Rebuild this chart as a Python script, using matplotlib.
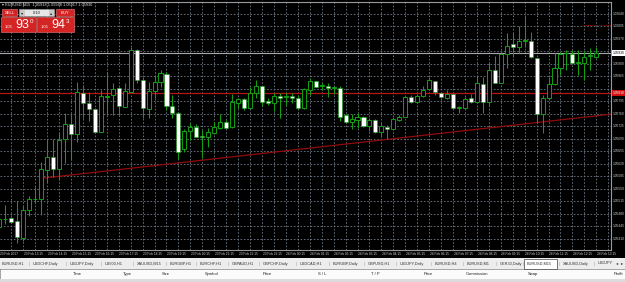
import numpy as np
import matplotlib
matplotlib.use('Agg')
import matplotlib.pyplot as plt
import matplotlib.transforms as mtrans
from matplotlib.patches import Rectangle

plt.rcParams['font.family'] = ['Liberation Sans', 'DejaVu Sans']

# EURUSD M15 candles, 23 Feb 12:15 .. 24 Feb 13:15
opens = [1.05443, 1.05464, 1.05468, 1.05460, 1.05412, 1.05490, 1.05520, 1.05521, 1.05602, 1.05639,
         1.05605, 1.05689, 1.05730, 1.05703, 1.05818, 1.05790, 1.05772, 1.05710, 1.05808, 1.05812,
         1.05831, 1.05780, 1.05822, 1.05938, 1.05854, 1.05773, 1.05823, 1.05850, 1.05871, 1.05782,
         1.05761, 1.05661, 1.05712, 1.05722, 1.05696, 1.05694, 1.05705, 1.05719, 1.05738, 1.05722,
         1.05791, 1.05800, 1.05777, 1.05817, 1.05837, 1.05796, 1.05789, 1.05810, 1.05808, 1.05810,
         1.05805, 1.05775, 1.05826, 1.05852, 1.05837, 1.05838, 1.05832, 1.05833, 1.05756, 1.05736,
         1.05742, 1.05752, 1.05726, 1.05742, 1.05709, 1.05724, 1.05716, 1.05742, 1.05752, 1.05808,
         1.05792, 1.05810, 1.05828, 1.05852, 1.05819, 1.05803, 1.05814, 1.05776, 1.05775, 1.05803,
         1.05792, 1.05843, 1.05794, 1.05882, 1.05847, 1.05927, 1.05954, 1.05948, 1.05964, 1.05964,
         1.05915, 1.05759, 1.05803, 1.05842, 1.05889, 1.05929, 1.05927, 1.05902, 1.05903, 1.05921,
         1.05918]
highs = [1.05474, 1.05504, 1.05471, 1.05516, 1.05504, 1.05530, 1.05556, 1.05625, 1.05689, 1.05689,
         1.05706, 1.05762, 1.05762, 1.05849, 1.05840, 1.05821, 1.05776, 1.05826, 1.05877, 1.05846,
         1.05835, 1.05847, 1.05948, 1.05941, 1.05864, 1.05850, 1.05868, 1.05882, 1.05876, 1.05812,
         1.05765, 1.05717, 1.05733, 1.05731, 1.05714, 1.05719, 1.05738, 1.05759, 1.05742, 1.05814,
         1.05803, 1.05803, 1.05836, 1.05854, 1.05838, 1.05803, 1.05817, 1.05817, 1.05819, 1.05819,
         1.05812, 1.05831, 1.05859, 1.05853, 1.05845, 1.05847, 1.05836, 1.05838, 1.05759, 1.05759,
         1.05761, 1.05754, 1.05747, 1.05744, 1.05738, 1.05728, 1.05750, 1.05756, 1.05807, 1.05812,
         1.05814, 1.05838, 1.05862, 1.05853, 1.05822, 1.05826, 1.05815, 1.05782, 1.05808, 1.05814,
         1.05866, 1.05864, 1.05901, 1.05922, 1.05930, 1.05985, 1.05985, 1.06006, 1.06034, 1.05988,
         1.05916, 1.05812, 1.05864, 1.05931, 1.05934, 1.05938, 1.05938, 1.05938, 1.05936, 1.05945,
         1.05948]
lows = [1.05434, 1.05451, 1.05454, 1.05398, 1.05404, 1.05474, 1.05510, 1.05476, 1.05569, 1.05583,
        1.05574, 1.05622, 1.05630, 1.05681, 1.05748, 1.05740, 1.05706, 1.05709, 1.05756, 1.05756,
        1.05756, 1.05779, 1.05821, 1.05846, 1.05748, 1.05748, 1.05804, 1.05836, 1.05770, 1.05748,
        1.05633, 1.05653, 1.05686, 1.05694, 1.05636, 1.05666, 1.05703, 1.05716, 1.05719, 1.05720,
        1.05775, 1.05770, 1.05775, 1.05803, 1.05782, 1.05783, 1.05768, 1.05749, 1.05783, 1.05789,
        1.05772, 1.05772, 1.05812, 1.05835, 1.05826, 1.05808, 1.05814, 1.05740, 1.05733, 1.05716,
        1.05719, 1.05724, 1.05712, 1.05707, 1.05696, 1.05688, 1.05714, 1.05740, 1.05751, 1.05789,
        1.05791, 1.05808, 1.05826, 1.05812, 1.05803, 1.05800, 1.05772, 1.05761, 1.05772, 1.05789,
        1.05791, 1.05763, 1.05784, 1.05845, 1.05845, 1.05887, 1.05920, 1.05929, 1.05948, 1.05916,
        1.05733, 1.05705, 1.05800, 1.05840, 1.05868, 1.05882, 1.05900, 1.05868, 1.05854, 1.05882,
        1.05917]
closes = [1.05465, 1.05466, 1.05457, 1.05415, 1.05490, 1.05521, 1.05522, 1.05605, 1.05639, 1.05604,
          1.05686, 1.05730, 1.05702, 1.05821, 1.05790, 1.05773, 1.05710, 1.05810, 1.05810, 1.05828,
          1.05782, 1.05824, 1.05938, 1.05854, 1.05775, 1.05824, 1.05850, 1.05873, 1.05782, 1.05763,
          1.05654, 1.05712, 1.05722, 1.05696, 1.05694, 1.05708, 1.05722, 1.05736, 1.05721, 1.05792,
          1.05800, 1.05775, 1.05817, 1.05837, 1.05794, 1.05790, 1.05810, 1.05805, 1.05809, 1.05805,
          1.05775, 1.05828, 1.05852, 1.05836, 1.05838, 1.05833, 1.05834, 1.05752, 1.05736, 1.05745,
          1.05752, 1.05726, 1.05742, 1.05709, 1.05726, 1.05716, 1.05744, 1.05752, 1.05806, 1.05794,
          1.05810, 1.05826, 1.05854, 1.05820, 1.05806, 1.05814, 1.05775, 1.05777, 1.05800, 1.05794,
          1.05845, 1.05794, 1.05882, 1.05847, 1.05927, 1.05950, 1.05948, 1.05964, 1.05965, 1.05918,
          1.05759, 1.05803, 1.05842, 1.05889, 1.05926, 1.05930, 1.05901, 1.05903, 1.05920, 1.05922,
          1.05930]

price_ticks = [1.06040, 1.06005, 1.05970, 1.05935, 1.05900, 1.05865, 1.05830, 1.05795, 1.05760, 1.05725,
               1.05690, 1.05655, 1.05620, 1.05585, 1.05550, 1.05515, 1.05480, 1.05445, 1.05410]
time_labels = ["23 Feb 2017", "23 Feb 13:15", "23 Feb 14:15", "23 Feb 15:15", "23 Feb 16:15",
               "23 Feb 17:15", "23 Feb 18:15", "23 Feb 19:15", "23 Feb 20:15", "23 Feb 21:15",
               "23 Feb 22:15", "23 Feb 23:15", "24 Feb 00:15", "24 Feb 01:15", "24 Feb 02:15",
               "24 Feb 03:15", "24 Feb 04:15", "24 Feb 05:15", "24 Feb 06:15", "24 Feb 07:15",
               "24 Feb 08:15", "24 Feb 09:15", "24 Feb 10:15", "24 Feb 11:15", "24 Feb 12:15",
               "24 Feb 13:15"]
bars_per_label = 4

bid, ask = 1.05930, 1.05943
hline_price = 1.05818
order_line = 1.06008
trend_x = [7, 100]
trend_y = [1.05579, 1.05754]

tabs = ["EURUSD,H1", "USDCHF,Daily", "USDJPY,Daily", "US500,H1", "XAUUSD,M15", "EURGBP,H1",
        "EURCHF,H1", "GBPAUD,H1", "GBPCHF,Daily", "USDCAD,H1", "EURGBP,Daily", "GBPUSD,H1",
        "USDJPY,Daily", "EURUSD,H4", "EURUSD,M1", "GER30,Daily", "EURUSD,M15", "XAUUSD,Daily", "USDJPY"]
tab_x = [2, 33, 70, 105, 137, 170, 200, 232, 263, 300, 333, 368, 400, 435, 467, 500, 527, 563, 598]
active_tab = "EURUSD,M15"
columns = ["Time", "Type", "Size", "Symbol", "Price", "S / L", "T / P", "Price", "Commission", "Swap", "Profit"]
column_x = [82, 132, 170, 218, 272, 327, 380, 433, 488, 538, 623]

o = np.array(opens); h = np.array(highs); l = np.array(lows); c = np.array(closes)
x = np.arange(len(o))
up = c >= o

green = '#12a012'
gridc = '#6f7c88'

fig = plt.figure(figsize=(6.25, 2.82), dpi=100, facecolor='black')

# background / terminal panel, pixel coordinates
bg = fig.add_axes([0, 0, 1, 1], zorder=0)
bg.set_xlim(0, 625); bg.set_ylim(282, 0); bg.axis('off')
bg.add_patch(Rectangle((0, 258), 625, 11, facecolor='#ededed', edgecolor='none'))
bg.add_patch(Rectangle((0, 269), 625, 10, facecolor='#fbfbfb', edgecolor='#b8b8b8', lw=0.5))
bg.add_patch(Rectangle((0, 279), 625, 3, facecolor='#dcdcdc', edgecolor='none'))
for name, tx in zip(tabs, tab_x):
    if name == active_tab:
        bg.add_patch(Rectangle((tx - 3, 258.5), 33, 10, facecolor='white', edgecolor='#404040', lw=0.5))
    bg.text(tx, 263.5, name, fontsize=2.8, color='#303030', va='center', ha='left')
    if tx > 2:
        bg.text(tx - 4, 263.5, '|', fontsize=2.8, color='#909090', va='center', ha='center')
bg.text(617, 263.5, '\u25c2', fontsize=3.2, color='#303030', va='center', ha='center')
bg.text(622, 263.5, '\u25b8', fontsize=3.2, color='#303030', va='center', ha='center')
for name, cx in zip(columns, column_x):
    bg.text(cx, 274, name, fontsize=3.0, color='#202020', va='center', ha='right')

# chart
ax = fig.add_axes([0, 32 / 282, 611 / 625, 248 / 282], zorder=1)
ax.set_facecolor('black')
ax.set_xlim(0.112, 102.46)
ax.set_ylim(1.053784, 1.060728)
ax.set_xticks([]); ax.set_yticks([])
ax.spines['left'].set_visible(False)
for s in ['top', 'right', 'bottom']:
    ax.spines[s].set_color('#9a9a9a')
    ax.spines[s].set_linewidth(0.8)

for p in price_ticks:
    ax.axhline(p, color=gridc, lw=0.6, ls=(0, (2, 2)), zorder=1)
for k in range(0, len(x) + 2, 2):
    ax.axvline(k, color=gridc, lw=0.6, ls=(0, (2, 2)), zorder=1)

ax.axhline(bid, color='#a8a8a8', lw=0.8, zorder=2)
ax.axhline(hline_price, color='#b81414', lw=0.9, zorder=2)
xmax = ax.get_xlim()[1]
slope = (trend_y[1] - trend_y[0]) / (trend_x[1] - trend_x[0])
ax.plot([trend_x[0], xmax], [trend_y[0], trend_y[0] + slope * (xmax - trend_x[0])],
        color='#920b0b', lw=0.9, zorder=2)
ax.plot([97.8, xmax], [order_line, order_line], color='#920b0b', lw=0.8, ls=(0, (1, 1)), zorder=2)

ax.vlines(x, l, h, color=green, lw=0.75, zorder=3)
bottom = np.minimum(o, c)
height = np.maximum(np.abs(c - o), 0.000022)
ax.bar(x[up], height[up], bottom=bottom[up], width=0.68, color='black', edgecolor=green, lw=0.7, zorder=4)
ax.bar(x[~up], height[~up], bottom=bottom[~up], width=0.68, color='white', edgecolor=green, lw=0.4, zorder=4)

# price scale (labels hidden behind the bid / line boxes are skipped)
ytr = mtrans.blended_transform_factory(ax.transAxes, ax.transData)
for p in price_ticks:
    if abs(p - bid) < 0.00015 or abs(p - hline_price) < 0.00015:
        continue
    ax.text(1.003, p, f"{p:.5f}", transform=ytr, fontsize=2.3, color='#d0d0d0',
            va='center', ha='left', clip_on=False)
ax.text(1.003, bid, f"{bid:.5f}", transform=ytr, fontsize=2.3, color='black', va='center', ha='left',
        clip_on=False, bbox=dict(boxstyle='square,pad=0.3', fc='white', ec='none'))
ax.text(1.003, hline_price, f"{hline_price:.5f}", transform=ytr, fontsize=2.3, color='white',
        va='center', ha='left', clip_on=False, bbox=dict(boxstyle='square,pad=0.3', fc='#d01010', ec='none'))

# time scale
xtr = mtrans.blended_transform_factory(ax.transData, ax.transAxes)
for i, lab in enumerate(time_labels):
    ax.text(i * bars_per_label + 0.1, -0.01, lab, transform=xtr, fontsize=2.35, color='#d0d0d0',
            va='top', ha='left', clip_on=False)

# overlay: title and one-click trading panel
ov = fig.add_axes([0, 0, 1, 1], zorder=5)
ov.set_xlim(0, 625); ov.set_ylim(282, 0); ov.axis('off'); ov.patch.set_alpha(0)
ov.text(2, 4.5, "\u25be EURUSD,M15  %.5f %.5f %.5f %.5f" % (o[-1], h[-1], l[-1], c[-1]),
        fontsize=2.8, color='#e0e0e0', va='center', ha='left')
red = '#d42424'
ov.add_patch(Rectangle((2, 9), 15, 7, facecolor=red, edgecolor='#f08080', lw=0.4))
ov.text(9.5, 12.6, "SELL", fontsize=3, color='white', va='center', ha='center')
ov.add_patch(Rectangle((19, 9), 35, 7, facecolor='#e6e6e6', edgecolor='#a0a0a0', lw=0.4))
ov.add_patch(Rectangle((19.5, 9.5), 5, 6, facecolor='#c8c8c8', edgecolor='none'))
ov.add_patch(Rectangle((48.5, 9.5), 5, 6, facecolor='#c8c8c8', edgecolor='none'))
ov.text(22, 12.6, "\u25be", fontsize=3, color='#202020', va='center', ha='center')
ov.text(51, 12.6, "\u25b4", fontsize=3, color='#202020', va='center', ha='center')
ov.text(36.5, 12.6, "0.10", fontsize=3, color='#202020', va='center', ha='center')
ov.add_patch(Rectangle((56, 9), 18, 7, facecolor=red, edgecolor='#f08080', lw=0.4))
ov.text(65, 12.6, "BUY", fontsize=3, color='white', va='center', ha='center')

for (x0, w, price) in [(1, 35, bid), (37, 37, ask)]:
    s = f"{price:.5f}"
    ov.add_patch(Rectangle((x0, 17), w, 15, facecolor=red, edgecolor='#f08080', lw=0.4))
    ov.text(x0 + 4, 27, s[:4], fontsize=3, color='white', va='center', ha='left')
    ov.text(x0 + 14, 30.5, s[4:6], fontsize=9, color='white', va='bottom', ha='left')
    ov.text(x0 + 28.5, 21.5, s[6], fontsize=4.5, color='white', va='center', ha='left')

fig.savefig('out.png', dpi=100, facecolor='black')
